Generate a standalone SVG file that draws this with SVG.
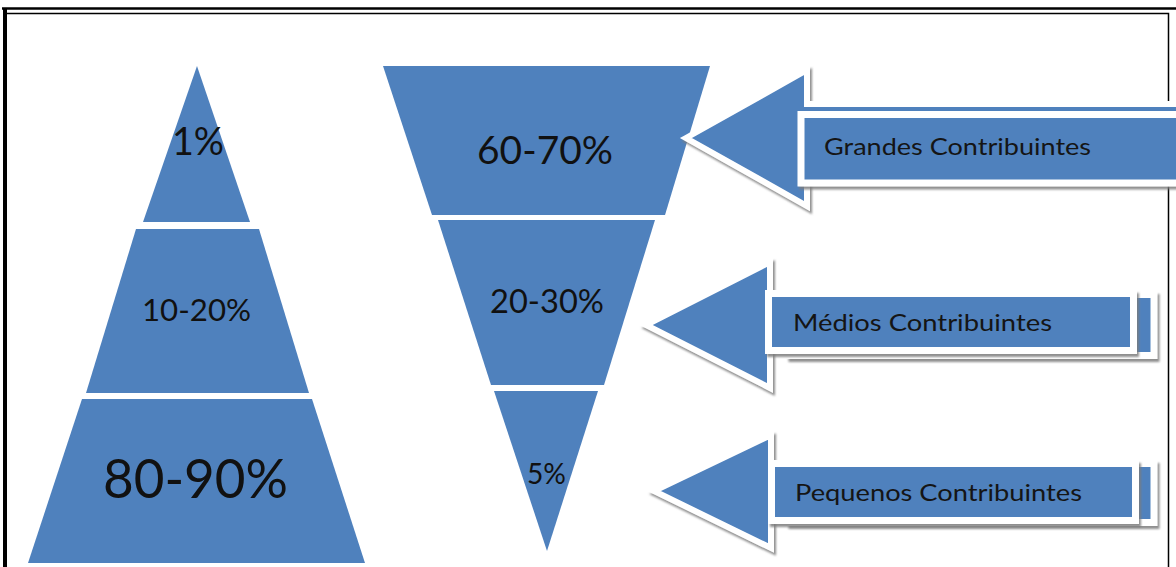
<svg xmlns="http://www.w3.org/2000/svg" width="1176" height="567" viewBox="0 0 1176 567">
  <defs>
    <filter id="sh" x="-5%" y="-5%" width="115%" height="120%">
      <feDropShadow dx="2" dy="3" stdDeviation="1.2" flood-color="#7a7a7a" flood-opacity="0.85"/>
    </filter>
  </defs>
  <style>
    .seg { fill: #4f81bd; }
    .arr { fill: #4f81bd; stroke: #ffffff; stroke-width: 6; stroke-linejoin: miter; stroke-miterlimit: 10; }
    .box { fill: #4f81bd; stroke: #ffffff; stroke-width: 7; }
    .num { font-family: Lato, "Open Sans", sans-serif; fill: #111111; text-anchor: start; }
    .lbl { font-family: Lato, "Open Sans", sans-serif; font-size: 23px; fill: #151515; }
    .frame { fill: none; stroke: #000000; }
  </style>
  <rect x="0" y="0" width="1176" height="567" fill="#ffffff"/>
  <g id="frame">
    <line class="frame" x1="2" y1="8.5" x2="1176" y2="8.5" stroke-width="2.5"/>
    <path class="frame" d="M5.5,567 V13.5 H1168.5 V567" stroke-width="1.5"/>
    <line class="frame" x1="5" y1="8" x2="5" y2="567" stroke-width="4"/>
  </g>

  <g id="pyramid">
    <g id="pyr-top">
      <polygon class="seg" points="197,66 250,222 143,222"/>
      <text class="num" x="172" y="155" font-size="39" textLength="52" lengthAdjust="spacingAndGlyphs">1%</text>
    </g>
    <g id="pyr-mid">
      <polygon class="seg" points="136,229 259,229 309,393 86,393"/>
      <text class="num" x="142" y="321" font-size="31" textLength="109" lengthAdjust="spacingAndGlyphs">10-20%</text>
    </g>
    <g id="pyr-bottom">
      <polygon class="seg" points="82,399 312,399 365,563 28,563"/>
      <text class="num" x="103" y="498" font-size="54" textLength="185" lengthAdjust="spacingAndGlyphs">80-90%</text>
    </g>
  </g>

  <g id="funnel">
    <g id="fun-top">
      <polygon class="seg" points="383,66 710,66 665,215 432,215"/>
      <text class="num" x="477" y="164" font-size="39" textLength="136" lengthAdjust="spacingAndGlyphs">60-70%</text>
    </g>
    <g id="fun-mid">
      <polygon class="seg" points="438,220 655,220 604,385 491,385"/>
      <text class="num" x="490" y="313" font-size="32" textLength="114" lengthAdjust="spacingAndGlyphs">20-30%</text>
    </g>
    <g id="fun-bottom">
      <polygon class="seg" points="494,391 598,391 547,551"/>
      <text class="num" x="527" y="484" font-size="28" textLength="39" lengthAdjust="spacingAndGlyphs">5%</text>
    </g>
  </g>

  <g id="connectors"/>

  <g id="grandes">
    <polygon class="arr" filter="url(#sh)" points="686,138 807,70 807,104 1190,104 1190,172 807,172 807,206"/>
    <rect class="box" filter="url(#sh)" x="801" y="114.5" width="385" height="68.5"/>
    <text class="lbl" x="824" y="155" textLength="267" lengthAdjust="spacingAndGlyphs">Grandes Contribuintes</text>
  </g>

  <g id="medios">
    <polygon class="arr" filter="url(#sh)" points="646,325 770,262 770,300 1140,300 1140,345 770,345 770,388"/>
    <rect class="box" filter="url(#sh)" x="790" y="294.5" width="364" height="61"/>
    <rect class="box" filter="url(#sh)" x="768.5" y="293.5" width="365" height="57"/>
    <text class="lbl" x="793" y="331" textLength="259" lengthAdjust="spacingAndGlyphs">Médios Contribuintes</text>
  </g>

  <g id="pequenos">
    <polygon class="arr" filter="url(#sh)" points="654,491 771,435 771,470 1140,470 1140,515 771,515 771,548"/>
    <rect class="box" filter="url(#sh)" x="790" y="463.5" width="364" height="59"/>
    <rect class="box" filter="url(#sh)" x="771.5" y="463.5" width="364" height="57"/>
    <text class="lbl" x="795" y="501" textLength="287" lengthAdjust="spacingAndGlyphs">Pequenos Contribuintes</text>
  </g>
</svg>
